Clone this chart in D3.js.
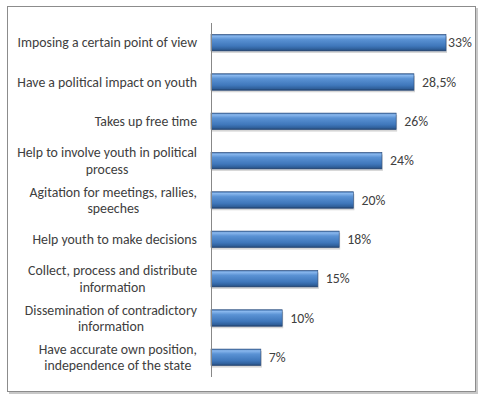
<!DOCTYPE html>
<html>
<head>
<meta charset="utf-8">
<script src="https://cdn.jsdelivr.net/npm/d3@7"></script>
<style>
  body { margin: 0; background: #fff; }
  svg { display: block; font-family: Carlito, 'Open Sans', 'Liberation Sans', sans-serif; }
</style>
</head>
<body>
<svg id="chart" width="484" height="399"></svg>
<script>
// categories top to bottom, each as lines of the label
const categories = [
  ['Imposing a certain point of view'],
  ['Have a political impact on youth'],
  ['Takes up free time'],
  ['Help to involve youth in political', 'process'],
  ['Agitation for meetings, rallies,', 'speeches'],
  ['Help youth to make decisions'],
  ['Collect, process and distribute', 'information'],
  ['Dissemination of contradictory', 'information'],
  ['Have accurate own position,', 'independence of the state']
]
const values = [33, 28.5, 26, 24, 20, 18, 15, 10, 7]
const valueLabels = ['33%', '28,5%', '26%', '24%', '20%', '18%', '15%', '10%', '7%']

const fontSize = 13.8
const svg = d3.select('#chart')

// frame with small shadow
svg.append('rect')
  .attr('x', 9).attr('y', 8).attr('width', 469).attr('height', 386)
  .attr('fill', '#c8c8c8')
svg.append('rect')
  .attr('x', 7.5).attr('y', 6.5).attr('width', 468).attr('height', 385)
  .attr('fill', '#fff').attr('stroke', '#8c8c8c').attr('stroke-width', 1)

const defs = svg.append('defs')
const grad = defs.append('linearGradient')
  .attr('id', 'barGrad').attr('x1', 0).attr('y1', 0).attr('x2', 0).attr('y2', 1)
grad.append('stop').attr('offset', '0%').attr('stop-color', '#3d6eaa')
grad.append('stop').attr('offset', '10%').attr('stop-color', '#8ab8ee')
grad.append('stop').attr('offset', '30%').attr('stop-color', '#5a92d4')
grad.append('stop').attr('offset', '70%').attr('stop-color', '#3f77bb')
grad.append('stop').attr('offset', '90%').attr('stop-color', '#2f5f9a')
grad.append('stop').attr('offset', '100%').attr('stop-color', '#223f66')

const x0 = 211
const x = d3.scaleLinear().domain([0, 33]).range([x0, 446])
const y = d3.scaleBand()
  .domain(d3.range(categories.length))
  .range([23, 377])
  .paddingInner(0.58)
  .paddingOuter(0.29)

const g = svg.append('g')

// bar shadow
g.selectAll('rect.shadow')
  .data(values)
  .enter()
  .append('rect')
  .attr('class', 'shadow')
  .attr('x', x0 + 1)
  .attr('y', (d, i) => y(i) + 2)
  .attr('width', d => x(d) - x0)
  .attr('height', y.bandwidth())
  .attr('fill', '#d6d6d6')

g.selectAll('rect.bar')
  .data(values)
  .enter()
  .append('rect')
  .attr('class', 'bar')
  .attr('x', x0)
  .attr('y', (d, i) => y(i))
  .attr('width', d => x(d) - x0)
  .attr('height', y.bandwidth())
  .attr('fill', 'url(#barGrad)')
  .attr('stroke', '#2a4c7c')
  .attr('stroke-width', 0.6)

// axis line
const axis = d3.axisLeft(y).tickSize(0).tickFormat('')
svg.append('g')
  .attr('transform', `translate(${x0},0)`)
  .call(axis)
  .call(s => s.select('.domain').attr('stroke', '#888').attr('d', 'M0.5,23V377'))

// category labels
const labels = svg.append('g')
  .selectAll('text')
  .data(categories)
  .enter()
  .append('text')
  .attr('font-size', fontSize)
  .attr('fill', '#404040')
labels.each(function (lines, i) {
  const cy = y(i) + y.bandwidth() / 2
  const top = cy - (lines.length - 1) * 8.3
  d3.select(this).selectAll('tspan')
    .data(lines)
    .enter()
    .append('tspan')
    .attr('x', 197)
    .attr('text-anchor', lines.length > 1 ? 'middle' : 'end')
    .attr('y', (l, k) => top + k * 16.6)
    .attr('dy', '0.35em')
    .text(l => l)
})
// multi-line labels: first line right aligned, second centred under it
labels.each(function (lines) {
  if (lines.length < 2) return
  const ts = d3.select(this).selectAll('tspan')
  const w = ts.nodes()[0].getComputedTextLength()
  ts.attr('x', 197 - w / 2)
})

// value labels
svg.append('g')
  .selectAll('text')
  .data(values)
  .enter()
  .append('text')
  .attr('x', d => Math.min(x(d) + 8, 448))
  .attr('y', (d, i) => y(i) + y.bandwidth() / 2)
  .attr('dy', '0.35em')
  .attr('font-size', fontSize)
  .attr('fill', '#404040')
  .text((d, i) => valueLabels[i])
</script>
</body>
</html>
